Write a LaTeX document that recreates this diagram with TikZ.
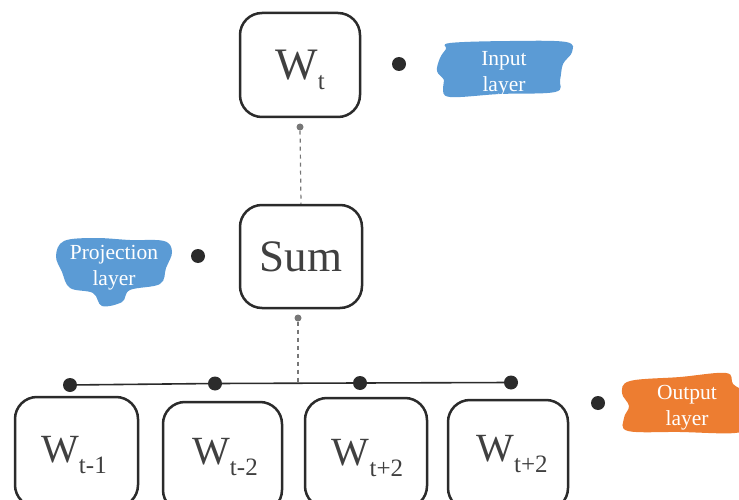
\documentclass[tikz,border=0pt]{standalone}
\usepackage{fontspec}
\setmainfont{Liberation Serif}
\definecolor{inkc}{HTML}{2B2B2B}
\definecolor{txtc}{HTML}{404040}
\definecolor{blueblob}{HTML}{5B9BD5}
\definecolor{orangeblob}{HTML}{ED7D31}
\definecolor{grayc}{HTML}{777777}
\newcommand{\lowsub}[2]{\raisebox{-#1}[0pt][0pt]{\fontsize{25}{25}\selectfont #2}}
\begin{document}
\begin{tikzpicture}[x=1pt,y=-1pt,
  handbox/.style={draw=inkc, line width=2.5pt, rounded corners=22pt, inner sep=0pt, text=txtc},
  bigbox/.style={handbox, font=\fontsize{45}{45}\selectfont},
  lowbox/.style={handbox, minimum height=110pt},
  lowtext/.style={text=txtc, inner sep=0pt, font=\fontsize{40}{40}\selectfont},
  bigdot/.style={circle, fill=inkc, inner sep=0pt, minimum size=14pt},
  smalldot/.style={circle, fill=grayc, inner sep=0pt, minimum size=7pt},
  dashedline/.style={draw=grayc, line width=1.2pt, dash pattern=on 4pt off 4pt},
  hline/.style={draw=inkc, line width=1.6pt},
  blobtext/.style={text=white, align=center, font=\fontsize{21.5}{26}\selectfont},
]
\useasboundingbox (0,0) rectangle (739,500);
\clip (0,0) rectangle (739,500);

% blobs
\fill[blueblob] plot[smooth cycle, tension=0.6] coordinates {(450,43) (510,41) (566,42) (572,52) (563,64) (560,80) (555,92) (500,94) (450,97) (443,88) (444,80) (437,71) (440,58) (446,49)};
\fill[blueblob] plot[smooth cycle, tension=0.6] coordinates {(64,241) (95,238) (130,240) (164,241) (172,252) (166,268) (160,284) (130,290) (122,302) (102,306) (93,293) (70,288) (62,272) (56,256)};
\fill[orangeblob] plot[smooth cycle, tension=0.6] coordinates {(630,381) (680,377) (726,373) (733,384) (745,395) (745,425) (735,433) (680,432) (628,431) (624,418) (629,406) (622,393)};

\node[blobtext] (inputtxt) at (504,74) {Input\\layer};
\node[blobtext] (projtxt) at (114,268) {Projection\\layer};
\node[blobtext] (outtxt) at (687,408) {Output\\layer};

% boxes
\node[bigbox, minimum width=120pt, minimum height=104pt] (wt) at (300,65) {W\lowsub{10pt}{t}};
\node[bigbox, minimum width=122pt, minimum height=103pt] (sum) at (301,256.5) {Sum};
\node[lowbox, minimum width=123pt] (o1) at (76.5,452) {};
\node[lowbox, minimum width=119pt] (o2) at (222.5,457) {};
\node[lowbox, minimum width=122pt] (o3) at (366,453) {};
\node[lowbox, minimum width=120pt] (o4) at (508,455) {};
\node[lowtext] (t1) at (74,450) {W\lowsub{11pt}{t-1}};
\node[lowtext] (t2) at (225,451.5) {W\lowsub{11pt}{t-2}};
\node[lowtext] (t3) at (367.5,452.5) {W\lowsub{11pt}{t+2}};
\node[lowtext] (t4) at (512,448.5) {W\lowsub{11pt}{t+2}};

% dots
\node[bigdot] (dinput) at (399,64) {};
\node[bigdot] (dproj) at (198,256) {};
\node[bigdot] (dout) at (598,403) {};
\node[smalldot] (s1) at (300,127) {};
\node[smalldot] (s2) at (298,318) {};

% connectors
\draw[dashedline] (s1) -- (sum.north);
\coordinate (junc) at (298,383.5);
\draw[dashedline] (s2) -- (junc);
\node[bigdot] (b1) at (70,385) {};
\node[bigdot] (b2) at (215,383.5) {};
\node[bigdot] (b3) at (360,383) {};
\node[bigdot] (b4) at (511,382.5) {};
\draw[hline] (b1) -- (b2) -- (b3) -- (b4);
\end{tikzpicture}
\end{document}
